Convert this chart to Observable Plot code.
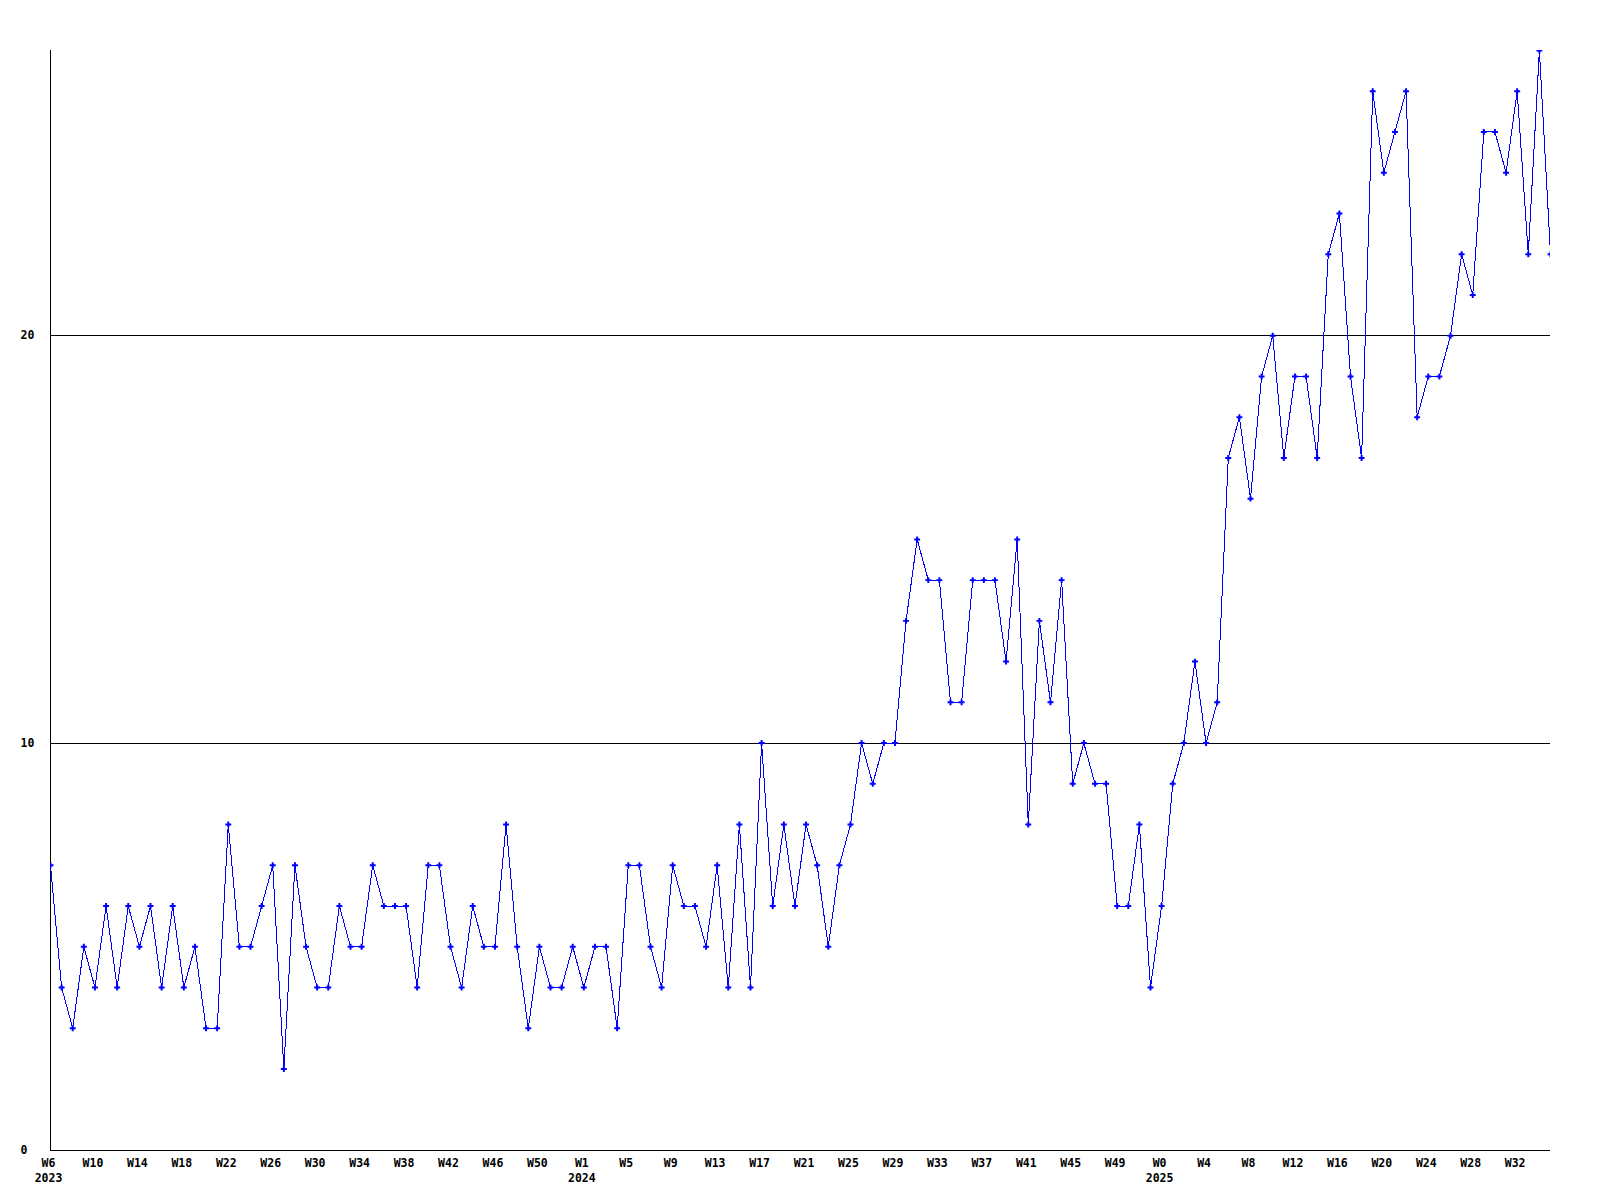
<!DOCTYPE html>
<html>
<head>
<meta charset="utf-8">
<script src="https://cdn.jsdelivr.net/npm/d3@7"></script>
<script src="https://cdn.jsdelivr.net/npm/@observablehq/plot@0.6"></script>
<style>
  html, body { margin: 0; padding: 0; background: #ffffff; }
  #chart svg { display: block; }
</style>
</head>
<body>
<div id="chart"></div>
<script>
// Weekly values, first point = W6 2023, one value per week
const values = [
  7, 4, 3, 5, 4, 6, 4, 6, 5, 6,
  4, 6, 4, 5, 3, 3, 8, 5, 5, 6,
  7, 2, 7, 5, 4, 4, 6, 5, 5, 7,
  6, 6, 6, 4, 7, 7, 5, 4, 6, 5,
  5, 8, 5, 3, 5, 4, 4, 5, 4, 5,
  5, 3, 7, 7, 5, 4, 7, 6, 6, 5,
  7, 4, 8, 4, 10, 6, 8, 6, 8, 7,
  5, 7, 8, 10, 9, 10, 10, 13, 15, 14,
  14, 11, 11, 14, 14, 14, 12, 15, 8, 13,
  11, 14, 9, 10, 9, 9, 6, 6, 8, 4,
  6, 9, 10, 12, 10, 11, 17, 18, 16, 19,
  20, 17, 19, 19, 17, 22, 23, 19, 17, 26,
  24, 25, 26, 18, 19, 19, 20, 22, 21, 25,
  25, 24, 26, 22, 27, 22
];

// Labels of the ticks, one every 4 weeks
const weekTicks = [
  "W6", "W10", "W14", "W18", "W22", "W26", "W30", "W34", "W38", "W42", "W46", "W50",
  "W1", "W5", "W9", "W13", "W17", "W21", "W25", "W29", "W33", "W37", "W41", "W45", "W49",
  "W0", "W4", "W8", "W12", "W16", "W20", "W24", "W28", "W32"
];
const tickYears = [
  "2023", "", "", "", "", "", "", "", "", "", "", "",
  "2024", "", "", "", "", "", "", "", "", "", "", "", "",
  "2025", "", "", "", "", "", "", "", ""
];
const yTicks = [0, 10, 20];
const gridValues = [10, 20];

const data = values.map((v, i) => ({ week: i, value: v }));
const tickWeeks = weekTicks.map((_, k) => k * 4);
const labelOf = new Map(tickWeeks.map((w, k) => [w, weekTicks[k] + (tickYears[k] ? "\n" + tickYears[k] : "")]));

const chart = Plot.plot({
  width: 1600,
  height: 1200,
  marginLeft: 50,
  marginRight: 50,
  marginTop: 50,
  marginBottom: 50,
  x: { domain: [0, values.length - 1] },
  y: { domain: [0, 27] },
  style: {
    fontFamily: "'DejaVu Sans Mono', 'Liberation Mono', monospace",
    fontSize: "11.5px",
    fontWeight: "bold",
    background: "#ffffff",
    color: "#000000"
  },
  marks: [
    Plot.ruleY(gridValues, { stroke: "#000000", strokeWidth: 1, shapeRendering: "crispEdges" }),
    Plot.ruleY([0], { stroke: "#000000", strokeWidth: 1, shapeRendering: "crispEdges" }),
    Plot.ruleX([0], { stroke: "#000000", strokeWidth: 1, shapeRendering: "crispEdges" }),
    Plot.axisY({ ticks: yTicks, tickSize: 0, tickPadding: 30, textAnchor: "start", label: null, tickFormat: d => String(d) }),
    Plot.axisX({ ticks: tickWeeks, tickSize: 0, tickPadding: 6, dx: -2, label: null, lineHeight: 1.3, tickFormat: d => labelOf.get(d) }),
    Plot.line(data, { x: "week", y: "value", stroke: "#0000ff", strokeWidth: 1, clip: true, shapeRendering: "crispEdges" }),
    Plot.dot(data, { x: "week", y: "value", symbol: "cross", r: 2.5, fill: "#0000ff", stroke: "none", clip: true })
  ]
});
document.getElementById("chart").append(chart);
</script>
</body>
</html>
